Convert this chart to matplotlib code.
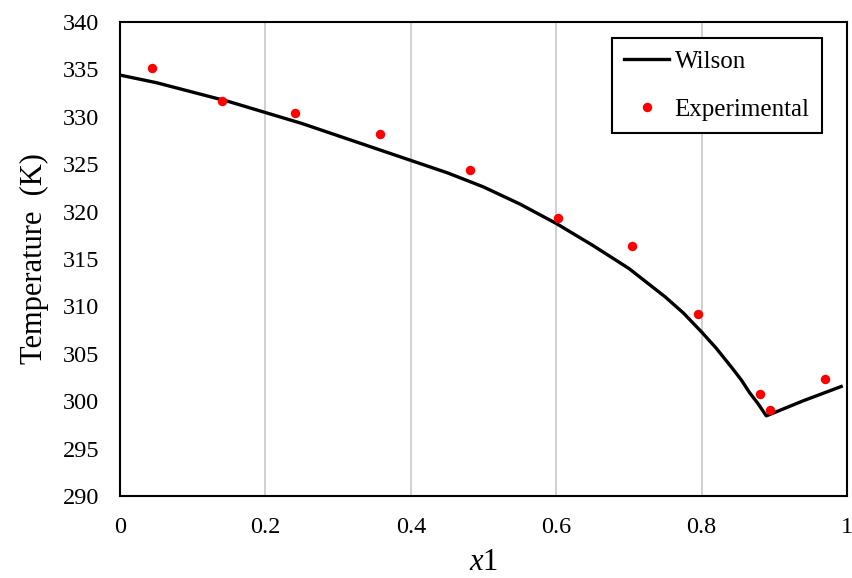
import matplotlib
matplotlib.use("Agg")
import matplotlib.pyplot as plt

# Wilson model curve
wilson_x = [0.0, 0.05, 0.10, 0.15, 0.20, 0.25, 0.30, 0.35, 0.40, 0.45, 0.50,
            0.55, 0.60, 0.65, 0.70, 0.725, 0.75, 0.775, 0.80, 0.82, 0.843, 0.855,
            0.866, 0.878, 0.889, 0.94, 0.992]
wilson_T = [334.4, 333.6, 332.6, 331.6, 330.45, 329.3, 328.0, 326.7, 325.4, 324.1, 322.6,
            320.8, 318.75, 316.45, 314.0, 312.5, 311.0, 309.3, 307.3, 305.6, 303.4, 302.2,
            300.9, 299.7, 298.45, 300.05, 301.55]

# Experimental points
exp_x = [0.044, 0.140, 0.241, 0.357, 0.481, 0.603, 0.704, 0.795, 0.881, 0.894, 0.970]
exp_T = [335.2, 331.7, 330.4, 328.2, 324.4, 319.3, 316.4, 309.2, 300.8, 299.1, 302.3]

x_ticks = [0, 0.2, 0.4, 0.6, 0.8, 1]
x_ticklabels = ["0", "0.2", "0.4", "0.6", "0.8", "1"]
y_ticks = list(range(290, 341, 5))

plt.rcParams['font.family'] = ['Liberation Serif', 'DejaVu Serif']
plt.rcParams['mathtext.fontset'] = 'custom'
plt.rcParams['mathtext.it'] = 'Liberation Serif:italic'
plt.rcParams['mathtext.rm'] = 'Liberation Serif'

fig = plt.figure(figsize=(8.52, 5.78), dpi=100)
ax = fig.add_axes([120/852, 1-496/578, 727/852, 474/578])

ax.plot(wilson_x, wilson_T, color='black', lw=2.4, label='Wilson', zorder=3,
        solid_joinstyle='round')
ax.plot(exp_x, exp_T, 'o', color='#ff0000', ms=6.8, mec='none', label='Experimental', zorder=4)

ax.set_xlim(0, 1)
ax.set_ylim(290, 340)
ax.set_xticks(x_ticks)
ax.set_xticklabels(x_ticklabels)
ax.set_yticks(y_ticks)
ax.tick_params(length=0, labelsize=17.5, pad=15)
ax.xaxis.grid(True, color='#c8c8c8', lw=1.2)
ax.set_axisbelow(True)
for s in ax.spines.values():
    s.set_linewidth(1.5)
    s.set_color('black')

ax.set_ylabel('Temperature  (K)', fontsize=22, labelpad=10)
ax.set_xlabel(r'$\mathit{x}\mathrm{1}$', fontsize=22, labelpad=7)

leg = ax.legend(loc='upper right', bbox_to_anchor=(0.9656, 0.9662), fontsize=18,
                frameon=True, fancybox=False, edgecolor='black', framealpha=1,
                handlelength=1.8, handletextpad=0.2, labelspacing=1.0, borderpad=0.5,
                borderaxespad=0)
leg.get_frame().set_linewidth(1.5)

fig.savefig('out.png', dpi=100)
